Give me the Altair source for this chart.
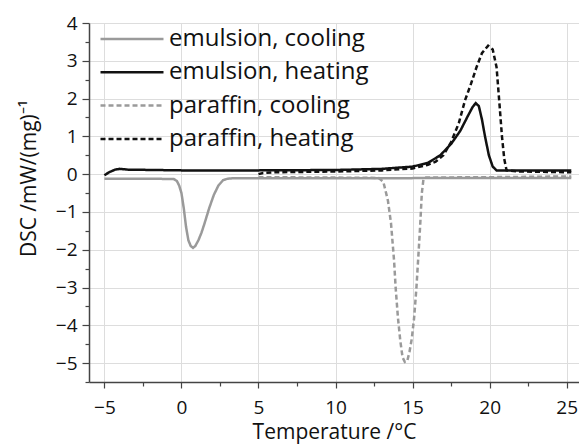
import altair as alt
import pandas as pd

series_names = ["emulsion, cooling", "emulsion, heating", "paraffin, cooling", "paraffin, heating"]

emul_cool_T = [-5, -2, -0.5, -0.3, -0.15, 0, 0.15, 0.3, 0.45, 0.6, 0.75, 0.9, 1.1, 1.3, 1.5, 1.8, 2.1, 2.4, 2.7, 3.0, 3.3, 10, 20, 25.3]
emul_cool_Y = [-0.12, -0.12, -0.13, -0.18, -0.3, -0.5, -0.9, -1.4, -1.75, -1.9, -1.95, -1.9, -1.75, -1.55, -1.3, -0.9, -0.55, -0.3, -0.16, -0.12, -0.11, -0.11, -0.1, -0.1]

emul_heat_T = [-5, -4.7, -4.3, -4.0, -3.5, 0, 5, 10, 13, 15, 16, 16.8, 17.5, 18.1, 18.6, 18.9, 19.1, 19.3, 19.5, 19.7, 19.95, 20.2, 20.45, 21, 25.3]
emul_heat_Y = [-0.03, 0.05, 0.12, 0.14, 0.12, 0.1, 0.1, 0.11, 0.14, 0.2, 0.3, 0.5, 0.8, 1.15, 1.55, 1.78, 1.88, 1.8, 1.45, 1.0, 0.5, 0.2, 0.1, 0.1, 0.1]

par_cool_T = [5, 10, 12.8, 13.1, 13.4, 13.6, 13.8, 13.9, 14.05, 14.2, 14.35, 14.5, 14.65, 14.8, 14.95, 15.1, 15.25, 15.4, 15.5, 15.6, 15.7, 15.8, 20, 25.3]
par_cool_Y = [-0.08, -0.09, -0.1, -0.2, -0.7, -1.3, -2.3, -3.0, -3.8, -4.4, -4.85, -4.97, -4.95, -4.7, -4.35, -3.8, -3.0, -2.0, -1.3, -0.5, -0.15, -0.09, -0.08, -0.06]

par_heat_T = [5, 5.3, 6, 10, 13, 15, 16, 16.5, 17, 17.5, 18, 18.4, 18.8, 19.15, 19.5, 19.9, 20.2, 20.45, 20.65, 20.8, 20.95, 21.1, 22, 25.3]
par_heat_Y = [0.0, 0.03, 0.05, 0.07, 0.1, 0.15, 0.25, 0.33, 0.5, 0.85, 1.35, 1.95, 2.4, 2.83, 3.2, 3.4, 3.3, 2.83, 1.8, 1.0, 0.4, 0.1, 0.07, 0.05]

rows = []
for name, T, Y in zip(series_names,
                      [emul_cool_T, emul_heat_T, par_cool_T, par_heat_T],
                      [emul_cool_Y, emul_heat_Y, par_cool_Y, par_heat_Y]):
    for t, y in zip(T, Y):
        rows.append({"series": name, "T": t, "DSC": y})
df = pd.DataFrame(rows)

x_ticks = [v * 2.5 for v in range(-2, 11)]
y_ticks = [v * 0.5 for v in range(-11, 9)]

legend_opts = dict(orient="none", legendX=31, legendY=4, symbolType="M-4,0H4",
                   symbolSize=248, symbolStrokeWidth=2.5, labelFontSize=24,
                   labelFont="Open Sans", labelColor="#111", labelOffset=25,
                   rowPadding=9.3, padding=0, labelLimit=400)

chart = alt.Chart(df).mark_line(strokeWidth=2.5, clip=True).encode(
    x=alt.X("T:Q", title="Temperature /°C",
            scale=alt.Scale(domain=[-6, 25.8], nice=False, zero=False),
            axis=alt.Axis(values=x_ticks, format="d",
                          labelExpr="datum.value % 5 == 0 ? datum.label : ''",
                          tickSize={"condition": {"test": "datum.value % 5 != 0", "value": 4}, "value": 6},
                          gridOpacity={"condition": {"test": "datum.value % 5 != 0", "value": 0}, "value": 1})),
    y=alt.Y("DSC:Q", title="DSC /mW/(mg)⁻¹",
            scale=alt.Scale(domain=[-5.5, 4], nice=False, zero=False),
            axis=alt.Axis(values=y_ticks, format=".0f",
                          labelExpr="datum.value % 1 == 0 ? datum.label : ''",
                          tickSize={"condition": {"test": "datum.value % 1 != 0", "value": 4}, "value": 7},
                          gridOpacity={"condition": {"test": "datum.value % 1 != 0", "value": 0}, "value": 1},
                          titleX=-54, titleY=155, titleBaseline="alphabetic")),
    color=alt.Color("series:N", title=None,
                    scale=alt.Scale(domain=series_names, range=["#9a9a9a", "#111111", "#9a9a9a", "#111111"]),
                    legend=alt.Legend(**legend_opts)),
    strokeDash=alt.StrokeDash("series:N", title=None,
                              scale=alt.Scale(domain=series_names, range=[[1, 0], [1, 0], [5, 3], [5, 3]]),
                              legend=alt.Legend(**legend_opts)),
).properties(
    width=490, height=359,
    autosize=alt.AutoSizeParams(type="none"),
    padding={"left": 89, "top": 23, "right": 0, "bottom": 63},
).configure_view(
    stroke=None
).configure_axis(
    labelFont="Open Sans", titleFont="Open Sans", labelFontSize=19, titleFontSize=21,
    labelColor="#111", titleColor="#111", titleFontWeight="normal",
    domainColor="#444", domainWidth=1.5, tickColor="#444", tickWidth=1.2,
    gridColor="#dddddd", gridWidth=1,
).configure_axisX(
    labelPadding=10, titlePadding=4
).configure_axisY(
    labelPadding=5
)

chart.save("out.html", embed_options={"renderer": "svg", "actions": False})
